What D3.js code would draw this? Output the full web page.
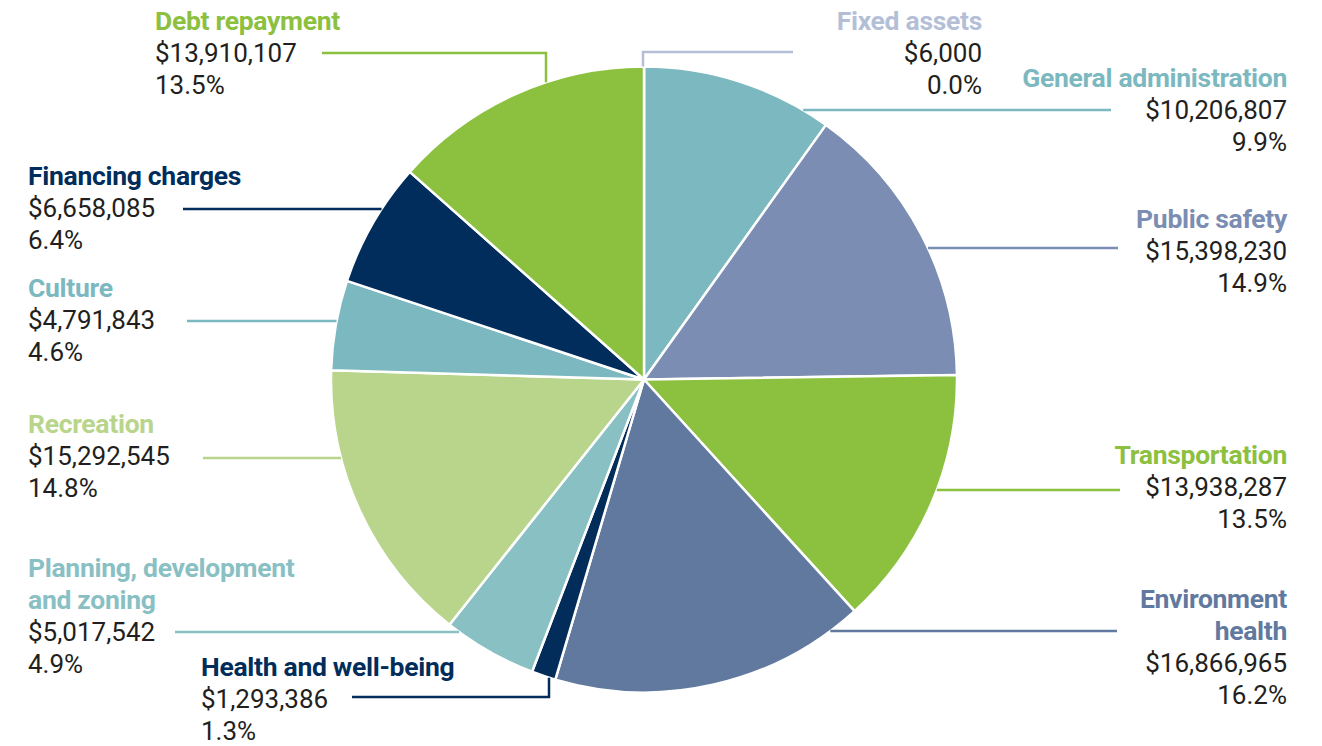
<!DOCTYPE html>
<html><head><meta charset="utf-8">
<script src="https://cdn.jsdelivr.net/npm/d3@7"></script>
<style>
html,body{margin:0;padding:0;background:#fff;}
svg{display:block;}
text{font-family:Roboto,"Noto Sans",sans-serif;}
</style></head>
<body><svg id="c" width="1322" height="746"></svg>
<script>
// ---- data ----
const categories = ["Fixed assets","General administration","Public safety","Transportation","Environment health","Health and well-being","Planning, development and zoning","Recreation","Culture","Financing charges","Debt repayment"];
const amounts = [6000,10206807,15398230,13938287,16866965,1293386,5017542,15292545,4791843,6658085,13910107];
const percentLabels = ["0.0%","9.9%","14.9%","13.5%","16.2%","1.3%","4.9%","14.8%","4.6%","6.4%","13.5%"];
const colors = ["#b4bfd7","#7bb8bf","#7b8db2","#8cc03f","#61799f","#022d5b","#89c0c4","#b8d58b","#7bb8bf","#002d5b","#8cc03f"];

// ---- layout (positions only) ----
const cx = 644, cy = 379.5, R = 313;
const layout = [
  {anchor:"end",   x:982,  y:30,  lines:["Fixed assets"], hy:52, hx:793, vx:643},
  {anchor:"end",   x:1287, y:87,  lines:["General administration"], hy:110, hx:1111},
  {anchor:"end",   x:1287, y:228, lines:["Public safety"], hy:248, hx:1118},
  {anchor:"end",   x:1287, y:464, lines:["Transportation"], hy:490, hx:1120},
  {anchor:"end",   x:1287, y:608, lines:["Environment","health"], hy:631, hx:1117},
  {anchor:"start", x:201,  y:676, lines:["Health and well-being"], hy:697, hx:352, vx:549},
  {anchor:"start", x:28,   y:577, lines:["Planning, development","and zoning"], hy:632, hx:175},
  {anchor:"start", x:28,   y:433, lines:["Recreation"], hy:458, hx:203},
  {anchor:"start", x:28,   y:297, lines:["Culture"], hy:321, hx:187},
  {anchor:"start", x:28,   y:185, lines:["Financing charges"], hy:209, hx:183},
  {anchor:"start", x:155,  y:30,  lines:["Debt repayment"], hy:53, hx:322, vx:546}
];
const LH = 32;

const svg = d3.select("#c");
const fmt = d3.format(",");
const pie = d3.pie().sort(null).value(d=>d)(amounts);
const arc = d3.arc().innerRadius(0).outerRadius(R);

const g = svg.append("g").attr("transform",`translate(${cx},${cy})`);
g.selectAll("path").data(pie).join("path")
  .attr("d",arc).attr("fill",(d,i)=>colors[i])
  .attr("stroke","#fff").attr("stroke-width",2.5).attr("stroke-linejoin","round");

// leader lines
layout.forEach((L,i)=>{
  let pts;
  if (L.vx !== undefined) {
    const dx = L.vx - cx;
    const ey = cy + Math.sign(L.hy - cy) * Math.sqrt(R*R - dx*dx);
    pts = [[L.hx,L.hy],[L.vx,L.hy],[L.vx,ey]];
  } else {
    const dy = L.hy - cy;
    const ex = cx + Math.sign(L.hx - cx) * Math.sqrt(R*R - dy*dy);
    pts = [[L.hx,L.hy],[ex,L.hy]];
  }
  svg.append("path").attr("d",d3.line()(pts))
    .attr("fill","none").attr("stroke",colors[i]).attr("stroke-width",2.5);
});

// labels
layout.forEach((L,i)=>{
  const t = svg.append("text").attr("text-anchor",L.anchor);
  let y = L.y;
  L.lines.forEach(s=>{
    t.append("tspan").attr("x",L.x).attr("y",y).text(s)
      .attr("fill",colors[i]).attr("font-weight",700).attr("font-size",26.5).attr("letter-spacing",-0.3);
    y += LH;
  });
  t.append("tspan").attr("x",L.x).attr("y",y).text("$"+fmt(amounts[i]))
    .attr("fill","#231f20").attr("font-size",26).attr("letter-spacing",0);
  y += LH;
  t.append("tspan").attr("x",L.x).attr("y",y).text(percentLabels[i])
    .attr("fill","#231f20").attr("font-size",26).attr("letter-spacing",0);
});
</script>
</body></html>
